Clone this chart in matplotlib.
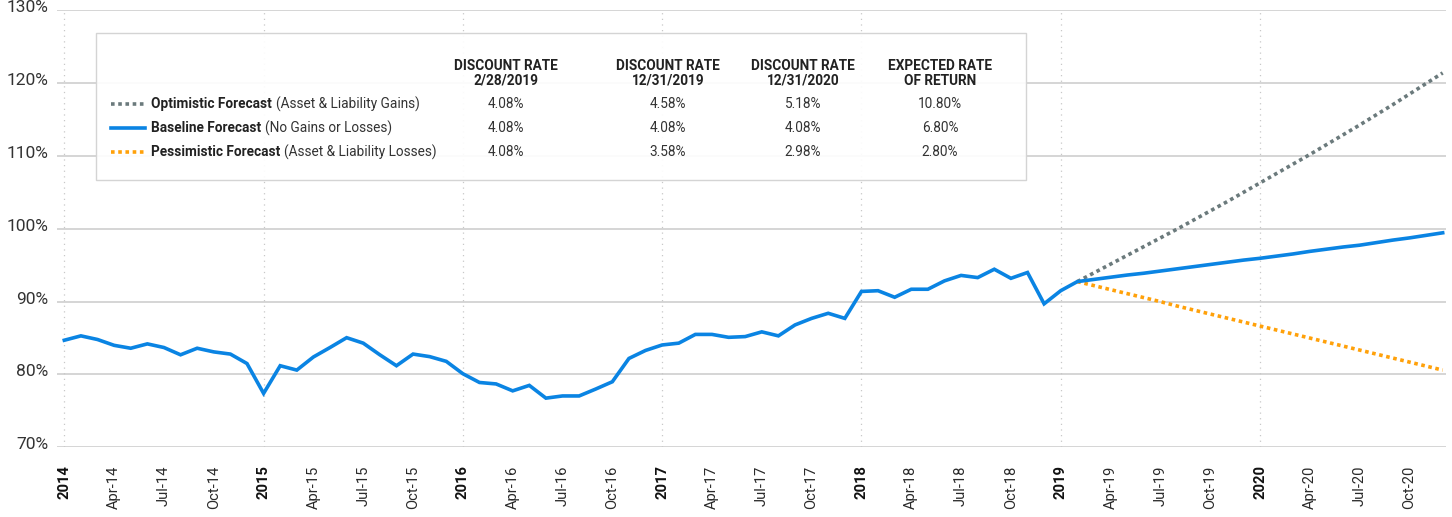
import matplotlib
matplotlib.use('Agg')
import matplotlib.pyplot as plt
import numpy as np
from matplotlib.lines import Line2D
from matplotlib.patches import Rectangle
from matplotlib.transforms import ScaledTranslation

plt.rcParams['font.family'] = ['Roboto', 'DejaVu Sans']

# funded ratio, monthly, Jan-14 .. Feb-19
history = [84.7, 85.3, 84.8, 84.0, 83.6, 84.2, 83.7, 82.7, 83.6, 83.1, 82.8, 81.5,
           77.4, 81.2, 80.6, 82.4, 83.7, 85.05, 84.3, 82.7, 81.2, 82.8, 82.45, 81.8,
           80.1, 78.9, 78.7, 77.75, 78.5, 76.75, 77.05, 77.05, 78.0, 79.0, 82.2, 83.3,
           84.05, 84.3, 85.5, 85.5, 85.1, 85.2, 85.85, 85.3, 86.8, 87.7, 88.4, 87.7,
           91.4, 91.5, 90.6, 91.7, 91.7, 92.85, 93.6, 93.3, 94.45, 93.2, 94.0, 89.7,
           91.5, 92.75]

# forecasts, monthly, Feb-19 .. Dec-20
optimistic = [92.75, 93.95, 95.15, 96.35, 97.55, 98.75, 99.95, 101.2, 102.45, 103.7,
              105.0, 106.3, 107.6, 108.9, 110.2, 111.55, 112.9, 114.25, 115.65,
              117.05, 118.5, 119.95, 121.4]
baseline = [92.75, 93.05, 93.35, 93.65, 93.9, 94.2, 94.5, 94.8, 95.1, 95.4, 95.7,
            95.95, 96.25, 96.55, 96.9, 97.2, 97.5, 97.75, 98.1, 98.45, 98.75, 99.1,
            99.45]
pessimistic = [92.75, 92.2, 91.65, 91.1, 90.55, 90.0, 89.4, 88.85, 88.3, 87.75,
               87.2, 86.65, 86.1, 85.55, 85.0, 84.45, 83.9, 83.35, 82.8, 82.25,
               81.7, 81.15, 80.6]

start_year = 2014
month_names = ['Jan', 'Feb', 'Mar', 'Apr', 'May', 'Jun',
               'Jul', 'Aug', 'Sep', 'Oct', 'Nov', 'Dec']

scenario_names = ['Optimistic Forecast', 'Baseline Forecast', 'Pessimistic Forecast']
scenario_notes = ['(Asset & Liability Gains)', '(No Gains or Losses)',
                  '(Asset & Liability Losses)']
table_headers = ['DISCOUNT RATE\n2/28/2019', 'DISCOUNT RATE\n12/31/2019',
                 'DISCOUNT RATE\n12/31/2020', 'EXPECTED RATE\nOF RETURN']
table_values = [['4.08%', '4.58%', '5.18%', '10.80%'],
                ['4.08%', '4.08%', '4.08%', '6.80%'],
                ['4.08%', '3.58%', '2.98%', '2.80%']]

BLUE = '#0a84e3'
GRAY = '#6b7a7c'
ORANGE = '#ffa10a'
styles = [dict(color=GRAY, ls=(0, (1, 1)), dash_capstyle='butt'),
          dict(color=BLUE, ls='-'),
          dict(color=ORANGE, ls=(0, (1, 1)), dash_capstyle='butt')]

W, H = 1452, 517
fig = plt.figure(figsize=(W / 100, H / 100), dpi=100)


def fx(px):
    return px / W


def fy(py):
    return 1 - py / H


ax = fig.add_axes([fx(57), fy(447.3), fx(1446 - 57), (447.3 - 10.3) / H])

n_hist = len(history)
x_hist = np.arange(n_hist)
x_fc = np.arange(n_hist - 1, n_hist - 1 + len(baseline))

lw = 2.6
ax.plot(x_fc, pessimistic, lw=lw, zorder=4, **styles[2])
ax.plot(x_fc, optimistic, lw=lw, zorder=4, **styles[0])
ax.plot(np.concatenate([x_hist, x_fc[1:]]), history + baseline[1:],
        color=BLUE, lw=lw, zorder=5, solid_joinstyle='miter')

n_months = x_fc[-1] + 1
ax.set_xlim(-0.44, 83.2)
ax.set_ylim(70, 130)

yt = np.arange(70, 131, 10)
ax.set_yticks(yt)
ax.set_yticklabels([f'{v}%' for v in yt])
ax.yaxis.grid(True, color='#d2d2d2', lw=1.3)
ax.set_axisbelow(True)

xt = np.arange(0, n_months, 3)
labels = []
for m in xt:
    yr = start_year + m // 12
    if m % 12 == 0:
        labels.append(str(yr))
    else:
        labels.append(f'{month_names[m % 12]}-{yr % 100:02d}')
ax.set_xticks(xt)
ax.set_xticklabels(labels, rotation=90, ha='center', va='top')
for m, lbl in zip(xt, ax.get_xticklabels()):
    if m % 12 == 0:
        lbl.set_fontweight('bold')
        lbl.set_color('#111111')
        lbl.set_fontsize(11.2)
    else:
        lbl.set_color('#2a2a2a')
for m in xt[xt % 12 == 0]:
    ax.axvline(m, color='#c8c8c8', lw=0.9, ls=(0, (1, 3.5)), zorder=1)

ax.tick_params(axis='x', length=0, pad=13, labelsize=10.6)
ax.tick_params(axis='y', length=0, pad=6, labelsize=12.5, labelcolor='#333333')
offset = ScaledTranslation(0, 4 / 100, fig.dpi_scale_trans)
for lbl in ax.get_yticklabels():
    lbl.set_transform(lbl.get_transform() + offset)
for s in ax.spines.values():
    s.set_visible(False)

# legend / table box
box = Rectangle((fx(96), fy(180)), fx(930), 147 / H, transform=fig.transFigure,
                facecolor=(1, 1, 1, 0.93), edgecolor='#d4d4d4', lw=1, zorder=6)
fig.add_artist(box)

fs = 9.8
col_x = [506, 668, 803, 940]
row_y = [104, 128, 152]
renderer = fig.canvas.get_renderer()
for i, (name, note) in enumerate(zip(scenario_names, scenario_notes)):
    fig.add_artist(Line2D([fx(111), fx(145)], [fy(row_y[i])] * 2, lw=2.6,
                          transform=fig.transFigure, zorder=7, **styles[i]))
    t = fig.text(fx(151), fy(row_y[i]), name, fontsize=fs, fontweight='bold',
                 color='#222222', va='center', ha='left', zorder=7)
    bb = t.get_window_extent(renderer)
    fig.text(fx(bb.x1 + 4), fy(row_y[i]), note, fontsize=fs, color='#333333',
             va='center', ha='left', zorder=7)
    for j, v in enumerate(table_values[i]):
        fig.text(fx(col_x[j]), fy(row_y[i]), v, fontsize=fs, color='#333333',
                 va='center', ha='center', zorder=7)
for j, h in enumerate(table_headers):
    fig.text(fx(col_x[j]), fy(73.5), h, fontsize=fs, fontweight='bold',
             color='#222222', va='center', ha='center', linespacing=1.05,
             multialignment='center', zorder=7)

fig.savefig('out.png', dpi=100)
